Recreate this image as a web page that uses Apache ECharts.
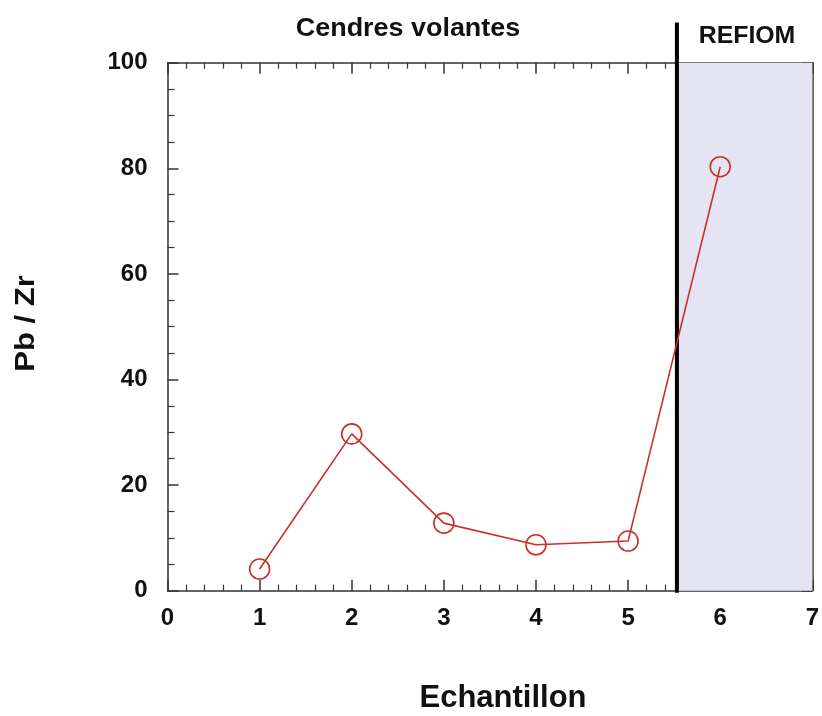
<!DOCTYPE html>
<html><head><meta charset="utf-8">
<script src="https://cdn.jsdelivr.net/npm/echarts@6/dist/echarts.min.js"></script>
<style>html,body{margin:0;padding:0;background:#fff}#c{width:822px;height:716px}</style>
</head><body><div id="c"></div>
<script>
const samples = [1, 2, 3, 4, 5, 6];
const pbZr = [4.1, 29.7, 12.8, 8.7, 9.4, 80.3];
const xTicks = [0, 1, 2, 3, 4, 5, 6, 7];
const yTicks = [0, 20, 40, 60, 80, 100];
const refiomStart = 5.53;
const refiomEnd = 7;
const dividerTop = 107.6;
const titleLeft = 'Cendres volantes';
const titleRight = 'REFIOM';
const xName = 'Echantillon';
const yName = 'Pb / Zr';

const F = 'Liberation Sans, Arial, sans-serif';
const chart = echarts.init(document.getElementById('c'));
const tickLbl = {fontFamily: F, fontWeight: 'bold', fontSize: 24, color: '#111'};
const axLine = {show: true, onZero: false, lineStyle: {color: '#333', width: 1.5}};
const tick = {show: true, inside: true, length: 11, lineStyle: {color: '#333', width: 1.5}};
const txt = (s, x, y, size, sx, rot) => ({
  type: 'text', x: x, y: y, scaleX: sx, rotation: rot || 0,
  style: {text: s, fontFamily: F, fontWeight: 'bold', fontSize: size, fill: '#111',
          align: 'center', verticalAlign: 'middle'}
});
chart.setOption({
  animation: false,
  backgroundColor: '#fff',
  graphic: [
    txt(titleLeft, 408, 29, 25, 1.077),
    txt(titleRight, 747, 36.5, 23, 1.08),
    txt(xName, 503, 698, 31, 1.0),
    txt(yName, 26.5, 323.5, 28, 1.11, Math.PI / 2)
  ],
  grid: {left: 167.5, right: 8.3, top: 62.7, bottom: 125.3},
  xAxis: [{
    type: 'value', min: xTicks[0], max: xTicks[xTicks.length - 1], interval: 1,
    axisLine: axLine, axisTick: tick,
    minorTick: {show: true, splitNumber: 5, length: 6, lineStyle: {color: '#333', width: 1.2}},
    axisLabel: Object.assign({margin: 16}, tickLbl),
    splitLine: {show: false}
  }, {
    type: 'value', position: 'top', min: xTicks[0], max: xTicks[xTicks.length - 1], interval: 1,
    axisLine: axLine, axisTick: tick,
    minorTick: {show: true, splitNumber: 5, length: 6, lineStyle: {color: '#333', width: 1.2}},
    axisLabel: {show: false}, splitLine: {show: false}
  }],
  yAxis: [{
    type: 'value', min: yTicks[0], max: yTicks[yTicks.length - 1], interval: 20,
    axisLine: axLine, axisTick: tick,
    minorTick: {show: true, splitNumber: 4, length: 7, lineStyle: {color: '#333', width: 1.2}},
    axisLabel: Object.assign({margin: 20}, tickLbl),
    splitLine: {show: false}
  }, {
    type: 'value', position: 'right', min: yTicks[0], max: yTicks[yTicks.length - 1], interval: 20,
    axisLine: axLine, axisTick: tick,
    minorTick: {show: true, splitNumber: 4, length: 7, lineStyle: {color: '#333', width: 1.2}},
    axisLabel: {show: false}, splitLine: {show: false}
  }],
  series: [{
    type: 'line', xAxisIndex: 0, yAxisIndex: 0, data: [], silent: true,
    markArea: {silent: true, itemStyle: {color: '#e4e4f2'},
      data: [[{xAxis: refiomStart, yAxis: yTicks[0]}, {xAxis: refiomEnd, yAxis: yTicks[yTicks.length - 1]}]]}
  }, {
    type: 'line', xAxisIndex: 0, yAxisIndex: 0, clip: false, silent: true,
    data: [[refiomStart, -0.4], [refiomStart, dividerTop]],
    symbol: 'none', lineStyle: {color: '#000', width: 4}, z: 5
  }, {
    type: 'line', xAxisIndex: 0, yAxisIndex: 0,
    data: samples.map((s, i) => [s, pbZr[i]]),
    symbol: 'circle', symbolSize: 20, showSymbol: true,
    lineStyle: {color: '#c8302a', width: 1.6},
    itemStyle: {color: 'rgba(255,255,255,0)', borderColor: '#c8302a', borderWidth: 1.6},
    z: 6
  }]
});
</script></body></html>
